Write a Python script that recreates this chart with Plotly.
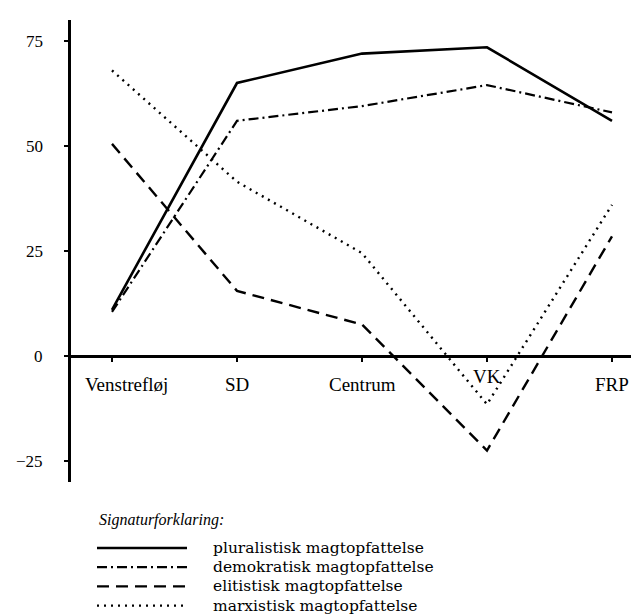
import plotly.graph_objects as go

# ---- data ----
categories = ["Venstrefløj", "SD", "Centrum", "VK", "FRP"]
pluralistisk = [11, 65, 72, 73.5, 56]
demokratisk = [10.5, 56, 59.5, 64.5, 58]
elitistisk = [50.5, 15.5, 7.5, -22.5, 28.5]
marxistisk = [68, 41.5, 24.5, -11.5, 36]

series_names = ["pluralistisk magtopfattelse", "demokratisk magtopfattelse",
                "elitistisk magtopfattelse", "marxistisk magtopfattelse"]
series_values = [pluralistisk, demokratisk, elitistisk, marxistisk]
y_tick_values = [-25, 0, 25, 50, 75]
y_tick_labels = ["−25", "0", "25", "50", "75"]
legend_title = "Signaturforklaring:"

# ---- styles ----
FONT = "Liberation Serif, Times New Roman, serif"
LEG_FONT = "DejaVu Serif, serif"
dashes = ["solid", "10px,4px,2px,4px", "12px,7px", "2px,5px"]
widths = [2.6, 2.2, 2.4, 2.4]

W, H = 631, 615
L, R, T, B = 71, 0, 20, 133
PW, PH = W - L - R, H - T - B
x_idx = list(range(len(categories)))
x_range = [-0.328, -0.328 + PW / 125.0]
y_range = [-30, 80]

fig = go.Figure()
for name, vals, d, w in zip(series_names, series_values, dashes, widths):
    fig.add_trace(go.Scatter(x=x_idx, y=vals, mode="lines", name=name,
                             line=dict(color="black", width=w, dash=d),
                             showlegend=False, hoverinfo="skip"))

zero_pos = (0 - y_range[0]) / (y_range[1] - y_range[0])

fig.update_layout(
    width=W, height=H,
    margin=dict(l=L, r=R, t=T, b=B),
    plot_bgcolor="white", paper_bgcolor="white",
    font=dict(family=FONT, color="black"),
    xaxis=dict(range=x_range, anchor="free", position=zero_pos,
               showline=True, linecolor="black", linewidth=2.6,
               tickvals=x_idx, ticks="outside", ticklen=4, tickwidth=2,
               tickcolor="black", showticklabels=False,
               showgrid=False, zeroline=False, fixedrange=True),
    yaxis=dict(range=y_range, showline=True, linecolor="black", linewidth=3,
               tickvals=y_tick_values, ticks="outside", ticklen=4, tickwidth=2,
               tickcolor="black", showticklabels=False,
               showgrid=False, zeroline=False, fixedrange=True),
)

# y tick labels, set off from the axis line
for v, t in zip(y_tick_values, y_tick_labels):
    fig.add_annotation(x=x_range[0], y=v, xref="x", yref="y", text=t,
                       showarrow=False, xanchor="right", yanchor="middle",
                       xshift=-26, font=dict(size=17, family=FONT))

# category labels (Venstrefløj shifted right of its tick, VK raised)
label_dx = [-0.23, 0, 0, 0, 0]
label_anchor = ["left", "center", "center", "center", "center"]
label_y = [-6.8, -6.8, -6.8, -4.9, -6.8]
for i, cat in enumerate(categories):
    fig.add_annotation(x=i + label_dx[i], y=label_y[i], xref="x", yref="y",
                       text=cat, showarrow=False, xanchor=label_anchor[i],
                       yanchor="middle", font=dict(size=19, family=FONT))

# legend (drawn below the plot), positions in page pixels -> paper coords
def px_x(p):
    return (p - L) / PW

def px_y(p):
    return 1 - (p - T) / PH

fig.add_annotation(x=px_x(97), y=px_y(520), xref="paper", yref="paper",
                   text="<i>" + legend_title + "</i>", showarrow=False,
                   xanchor="left", yanchor="middle", font=dict(size=16, family=FONT))
leg_y0, leg_step = 548, 19.2
for k, (name, d, w) in enumerate(zip(series_names, dashes, widths)):
    yy = px_y(leg_y0 + k * leg_step)
    fig.add_shape(type="line", xref="paper", yref="paper",
                  x0=px_x(97), x1=px_x(187), y0=yy, y1=yy,
                  line=dict(color="black", width=w, dash=d))
    fig.add_annotation(x=px_x(211), y=yy, xref="paper", yref="paper",
                       text=name, showarrow=False, xanchor="left",
                       yanchor="middle", font=dict(size=15.5, family=LEG_FONT))

fig.write_html("out.html", config={"displayModeBar": False},
               post_script="document.body.style.margin='0';")
